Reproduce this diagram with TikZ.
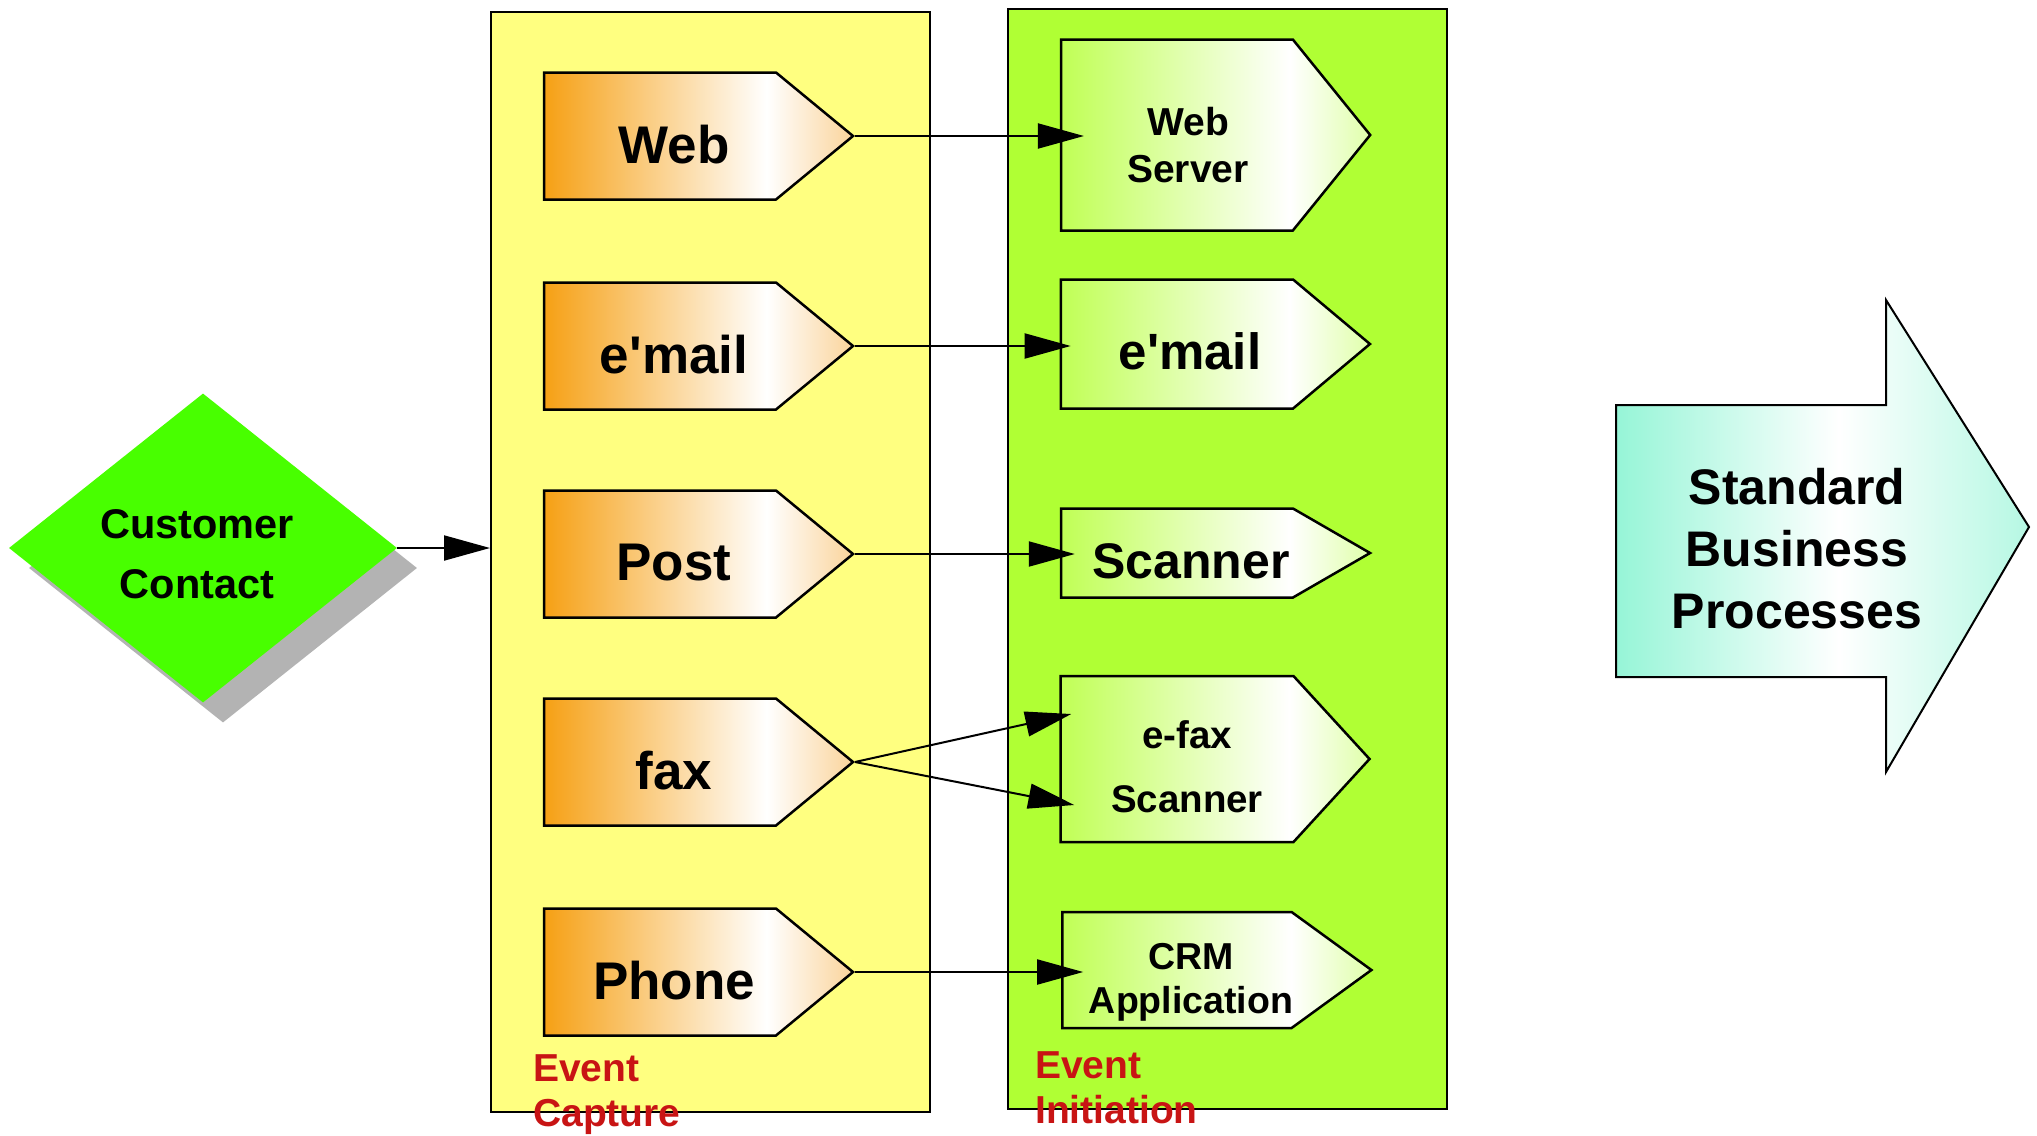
\documentclass[tikz,border=0pt]{standalone}
\usepackage{fontspec}
\setmainfont{Liberation Sans}
\usetikzlibrary{calc,shapes.geometric,shapes.symbols,arrows.meta,shadows}
\definecolor{capfill}{RGB}{255,255,128}
\definecolor{initfill}{RGB}{176,255,52}
\definecolor{custfill}{RGB}{72,255,0}
\definecolor{custshadow}{RGB}{179,179,179}
\definecolor{tagorange}{RGB}{246,160,20}
\definecolor{taglight}{RGB}{250,212,155}
\definecolor{taggreen}{RGB}{192,255,85}
\definecolor{tagmint}{RGB}{150,245,215}
\definecolor{lanered}{RGB}{200,20,20}
\pgfdeclarehorizontalshading{orangeshade}{100bp}{color(0bp)=(tagorange); color(25bp)=(tagorange); color(61bp)=(white); color(75bp)=(taglight); color(100bp)=(taglight)}
\pgfdeclarehorizontalshading{greenshade}{100bp}{color(0bp)=(taggreen); color(25bp)=(taggreen); color(62bp)=(white); color(75bp)=(taggreen!50!white); color(100bp)=(taggreen!50!white)}
\pgfdeclarehorizontalshading{mintshade}{100bp}{color(0bp)=(tagmint); color(25bp)=(tagmint); color(52bp)=(white); color(75bp)=(tagmint!70!white); color(100bp)=(tagmint!70!white)}
\newcommand\txtsize[2]{\fontsize{#1}{#2}\selectfont\bfseries}

\begin{document}
\begin{tikzpicture}[x=1pt,y=-1pt,
lane/.style={draw,line width=2pt,minimum width=439pt,minimum height=1100pt,inner sep=0pt},
tagbox/.style={signal,signal to=east,draw,line width=2.5pt,inner sep=0pt},
captag/.style={tagbox,shading=orangeshade,minimum width=309pt,minimum height=127pt,signal pointer angle=79},
inittag/.style={tagbox,shading=greenshade,minimum width=309pt},
tagtext/.style={align=center,inner sep=0pt},
conn/.style={line width=2pt,-{Triangle[length=46pt,width=25pt]}},
lanelabel/.style={anchor=north west,inner sep=0pt,align=left,text=lanered,font=\txtsize{39}{45}}]
\useasboundingbox (0,0) rectangle (2037,1135);
\node[lane,fill=capfill] (capture) at (710.5,562) {};
\node[lane,fill=initfill] (initiation) at (1227,558.5) {};
\node[lanelabel] (caplabel) at (533,1054) {Event\\Capture};
\node[lanelabel] (initlabel) at (1035,1051) {Event\\Initiation};
% customer side
\node[diamond,fill=custfill,minimum width=388pt,minimum height=309pt,inner sep=0pt,
  drop shadow={shadow xshift=20pt,shadow yshift=-20pt,fill=custshadow,opacity=1}]
  (cust) at (203,548) {};
\node[tagtext,font=\txtsize{41.5}{60}] (cust-txt) at ([shift={(-6,6)}]cust) {Customer\\Contact};
\draw[conn] (cust.east) -- (cust.east -| capture.west);
% capture channels
\foreach \nm/\yy/\txt in {web/136/Web,mail/346/e\textquotesingle mail,post/554/Post,fax/762/fax,phone/972/Phone}{
  \node[captag] (\nm) at (660,\yy) {};
  \node[tagtext,font=\txtsize{53}{60}] (\nm-txt) at ([shift={(14,9)}]\nm) {\txt};
}
% initiation points
\node[inittag,minimum height=191pt,signal pointer angle=102] (websrv) at (1177,135) {};
\node[inittag,minimum height=129pt,signal pointer angle=80] (imail) at (1177,344) {};
\node[inittag,minimum height=89pt,signal pointer angle=60] (scan) at (1177,553) {};
\node[inittag,minimum height=166pt,signal pointer angle=95] (efax) at (1177,759) {};
\node[inittag,minimum height=116pt,signal pointer angle=72] (crm) at (1177,970) {};
\node[tagtext,font=\txtsize{39}{47}] (websrv-txt) at ([shift={(11,10)}]websrv) {Web\\Server};
\node[tagtext,font=\txtsize{51}{58}] (imail-txt) at ([shift={(13,7)}]imail) {e\textquotesingle mail};
\node[tagtext,font=\txtsize{50}{58}] (scan-txt) at ([shift={(14,8)}]scan) {Scanner};
\node[tagtext,font=\txtsize{38.5}{64}] (efax-txt) at ([shift={(10,8)}]efax) {e-fax\\Scanner};
\node[tagtext,font=\txtsize{37.5}{44}] (crm-txt) at ([shift={(14,12)}]crm) {CRM\\Application};
\draw[conn] (web.east) -- ($(web.east -| websrv.west)+(24,0)$);
\draw[conn] (mail.east) -- ($(mail.east -| imail.west)+(11,0)$);
\draw[conn] (post.east) -- ($(post.east -| scan.west)+(15,0)$);
\draw[conn] (fax.east) -- ($(efax.west)+(12,-45)$);
\draw[conn] (fax.east) -- ($(efax.west)+(15,46)$);
\draw[conn] (phone.east) -- ($(phone.east -| crm.west)+(22,0)$);
% outcome
\shadedraw[shading=mintshade,line width=2pt] (1616,405) -- (1886,405) -- (1886,300) -- (2029,527)
  -- (1886,772) -- (1886,677) -- (1616,677) -- cycle;
\node[tagtext,font=\txtsize{50}{62}] (sbp) at (1797,549) {Standard\\Business\\Processes};
\end{tikzpicture}
\end{document}
